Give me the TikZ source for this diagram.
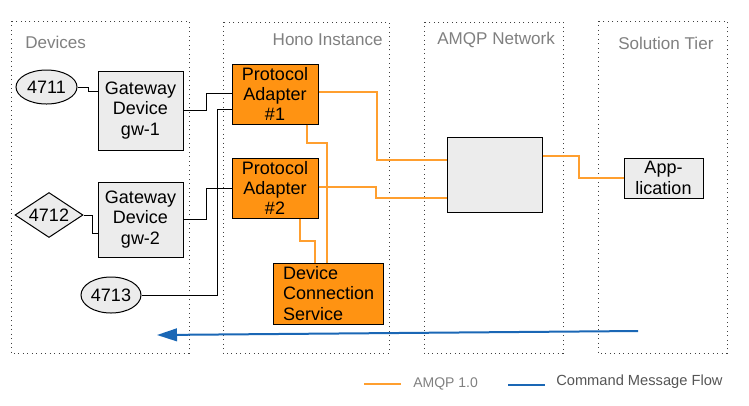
\documentclass[tikz,border=0pt]{standalone}
\usepackage{fontspec}
\setmainfont{Liberation Sans}
\usetikzlibrary{shapes.geometric,arrows.meta}
\definecolor{boxgray}{HTML}{ECECEC}
\definecolor{orfill}{HTML}{FF9312}
\definecolor{orline}{HTML}{FF9F2F}
\definecolor{ttlgray}{HTML}{808080}
\definecolor{legtext}{HTML}{555555}
\definecolor{cmdblue}{HTML}{1A67B5}
\tikzset{
  zone/.style={draw=black!75, line width=0.75pt, dash pattern=on 0.75pt off 2.6pt},
  title/.style={text=ttlgray, font=\fontsize{12.8}{14}\selectfont, inner sep=0pt},
  graybox/.style={draw, fill=boxgray, line width=0.75pt, align=center, inner sep=0pt, font=\fontsize{13.5}{15.2}\selectfont},
  orbox/.style={draw, fill=orfill, line width=0.75pt, align=center, inner sep=0pt, font=\fontsize{13.5}{15.2}\selectfont},
  dev/.style={draw, fill=boxgray, line width=0.75pt, inner sep=0pt, font=\fontsize{13.5}{15.2}\selectfont},
  blk/.style={draw=black, line width=0.75pt},
  amqp/.style={draw=orline, line width=1.1pt},
  cmd/.style={draw=cmdblue, line width=1.5pt},
  legend/.style={font=\fontsize{10.5}{12}\selectfont, inner sep=0pt, anchor=west}
}
\begin{document}
\begin{tikzpicture}[x=0.75pt,y=-0.75pt]
\useasboundingbox (0,0) rectangle (749,405);
% zones
\draw[zone] (11,21) rectangle (189,353);
\draw[zone] (223,22) rectangle (389,353);
\draw[zone] (424,22) rectangle (563,353);
\draw[zone] (598,21) rectangle (727,353);
\node[title, anchor=west] (tdev) at (25,42) {Devices};
\node[title, anchor=east] (thono) at (383,40) {Hono Instance};
\node[title, anchor=west] (tamqp) at (437,40) {AMQP Network};
\node[title, anchor=west] (tsol) at (618,43) {Solution Tier};
% devices
\node[dev, ellipse, minimum width=45.75pt, minimum height=25.5pt] (e4711) at (46.5,87) {4711};
\node[dev, diamond, aspect=1.5, minimum width=51pt, minimum height=33.75pt] (d4712) at (49,215) {4712};
\node[dev, ellipse, minimum width=45pt, minimum height=27pt] (e4713) at (111,295) {4713};
\node[graybox, minimum width=63.75pt, minimum height=59.25pt] (gw1) at (140.5,110.5) {Gateway\\Device\\gw-1};
\node[graybox, minimum width=63.75pt, minimum height=56.25pt] (gw2) at (140.5,219.5) {Gateway\\Device\\gw-2};
% hono
\node[orbox, minimum width=64.5pt, minimum height=45pt] (pa1) at (275,94) {Protocol\\Adapter\\\#1};
\node[orbox, minimum width=64.5pt, minimum height=45pt] (pa2) at (275,188) {Protocol\\Adapter\\\#2};
\node[orbox, align=left, minimum width=82.5pt, minimum height=45.75pt, text width=67.5pt] (dcs) at (328,293.5) {Device\\Connection\\Service};
% amqp + app
\node[graybox, minimum width=71.25pt, minimum height=56.25pt] (net) at (494.5,174.5) {};
\node[graybox, minimum width=59.25pt, minimum height=30pt] (app) at (663.5,178) {App-\\lication};
% black connectors
\draw[blk] (e4711.east) -- (88,87) |- (gw1.west |- 0,91);
\draw[blk] (gw1.east |- 0,110) -- (206,110) |- (pa1.west |- 0,93);
\draw[blk] (e4713.east) -| (217,109) -- (pa1.west |- 0,109);
\draw[blk] (d4712.east) -- (92,215) |- (gw2.west |- 0,233);
\draw[blk] (gw2.east |- 0,219) -- (206,219) |- (pa2.west |- 0,188);
% orange connectors
\draw[amqp] (pa1.east |- 0,92) -- (377,92) |- (net.west |- 0,160);
\draw[amqp] (pa2.east |- 0,187) -- (376,187) |- (net.west |- 0,198);
\draw[amqp] (net.east |- 0,156) -- (579,156) |- (app.west);
\draw[amqp] (pa1.south -| 307,0) -- (307,143) -| (dcs.north -| 327,0);
\draw[amqp] (pa2.south -| 300,0) -- (300,241) -| (dcs.north -| 315,0);
% command flow
\coordinate (cmdstart) at (638,331);
\coordinate (cmdend) at (157,335);
\draw[cmd, -{Triangle[length=15pt,width=9.5pt]}] (cmdstart) -- (cmdend);
% legend
\coordinate (la1) at (364,384);
\coordinate (la2) at (401,384);
\draw[amqp, line width=1.5pt] (la1) -- (la2);
\node[legend, text=ttlgray] (lamqp) at (413,384) {AMQP 1.0};
\coordinate (lb1) at (508,385);
\coordinate (lb2) at (545,385);
\draw[cmd] (lb1) -- (lb2);
\node[legend, text=legtext, font=\fontsize{11}{12}\selectfont] (lcmd) at (556,382) {Command Message Flow};
\end{tikzpicture}
\end{document}
